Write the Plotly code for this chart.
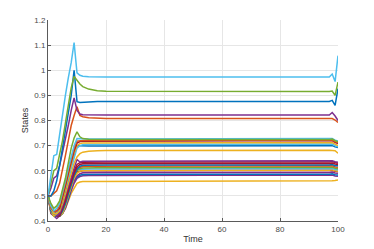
import plotly.graph_objects as go

time = [0, 1, 2, 3, 4, 5, 6, 7, 8, 9, 10, 11, 12, 14, 17, 20, 97, 98, 99, 100]

x_ticks = [0, 20, 40, 60, 80, 100]
x_tick_labels = ["0", "20", "40", "60", "80", "100"]
y_ticks = [0.4, 0.5, 0.6, 0.7, 0.8, 0.9, 1.0, 1.1, 1.2]
y_tick_labels = ["0.4", "0.5", "0.6", "0.7", "0.8", "0.9", "1", "1.1", "1.2"]

BLUE = "#0072BD"; ORANGE = "#D95319"; YELLOW = "#EDB120"; PURPLE = "#7E2F8E"
GREEN = "#77AC30"; LIGHTBLUE = "#4DBEEE"; RED = "#A2142F"

s01 = [0.50, 0.58, 0.66, 0.665, 0.75, 0.83, 0.90, 0.97, 1.03, 1.11, 0.99, 0.980, 0.976, 0.974, 0.973, 0.973, 0.973, 0.985, 0.955, 1.058]
s02 = [0.50, 0.55, 0.60, 0.61, 0.66, 0.72, 0.79, 0.86, 0.93, 0.975, 0.960, 0.945, 0.935, 0.925, 0.918, 0.916, 0.915, 0.917, 0.900, 0.953]
s03 = [0.50, 0.50, 0.52, 0.56, 0.62, 0.69, 0.76, 0.83, 0.90, 1.00, 0.875, 0.872, 0.873, 0.875, 0.876, 0.876, 0.876, 0.880, 0.860, 0.927]
s04 = [0.50, 0.53, 0.57, 0.58, 0.62, 0.67, 0.72, 0.78, 0.84, 0.89, 0.84, 0.826, 0.823, 0.822, 0.822, 0.822, 0.822, 0.832, 0.818, 0.800]
s05 = [0.50, 0.50, 0.51, 0.52, 0.55, 0.60, 0.66, 0.72, 0.78, 0.82, 0.855, 0.820, 0.815, 0.811, 0.809, 0.808, 0.808, 0.808, 0.802, 0.792]
s06 = [0.50, 0.47, 0.45, 0.46, 0.48, 0.52, 0.57, 0.63, 0.69, 0.73, 0.755, 0.735, 0.728, 0.725, 0.724, 0.724, 0.724, 0.726, 0.720, 0.715]
s07 = [0.50, 0.46, 0.44, 0.45, 0.47, 0.51, 0.56, 0.61, 0.66, 0.70, 0.728, 0.727, 0.726, 0.726, 0.726, 0.726, 0.726, 0.728, 0.722, 0.718]
s08 = [0.50, 0.45, 0.44, 0.44, 0.46, 0.50, 0.55, 0.60, 0.65, 0.69, 0.718, 0.720, 0.720, 0.720, 0.720, 0.720, 0.720, 0.722, 0.716, 0.712]
s09 = [0.50, 0.46, 0.44, 0.44, 0.45, 0.49, 0.54, 0.59, 0.64, 0.68, 0.710, 0.716, 0.717, 0.717, 0.717, 0.717, 0.717, 0.720, 0.713, 0.708]
s10 = [0.50, 0.45, 0.43, 0.43, 0.44, 0.48, 0.53, 0.58, 0.63, 0.67, 0.700, 0.708, 0.710, 0.710, 0.710, 0.710, 0.710, 0.712, 0.706, 0.700]
s11 = [0.50, 0.45, 0.43, 0.43, 0.45, 0.49, 0.53, 0.58, 0.62, 0.66, 0.690, 0.700, 0.703, 0.704, 0.704, 0.704, 0.704, 0.706, 0.700, 0.695]
s12 = [0.50, 0.44, 0.43, 0.43, 0.44, 0.48, 0.52, 0.57, 0.62, 0.66, 0.700, 0.700, 0.699, 0.699, 0.699, 0.699, 0.699, 0.700, 0.695, 0.692]
s13 = [0.50, 0.44, 0.42, 0.43, 0.44, 0.47, 0.51, 0.56, 0.60, 0.63, 0.655, 0.668, 0.674, 0.678, 0.680, 0.681, 0.682, 0.682, 0.680, 0.670]
s14 = [0.50, 0.45, 0.43, 0.42, 0.43, 0.46, 0.50, 0.54, 0.58, 0.61, 0.645, 0.635, 0.638, 0.638, 0.638, 0.638, 0.638, 0.640, 0.636, 0.634]
s15 = [0.50, 0.45, 0.43, 0.42, 0.43, 0.45, 0.49, 0.53, 0.57, 0.60, 0.625, 0.632, 0.634, 0.635, 0.635, 0.635, 0.635, 0.637, 0.633, 0.630]
s16 = [0.50, 0.44, 0.43, 0.42, 0.42, 0.45, 0.48, 0.52, 0.56, 0.59, 0.615, 0.625, 0.628, 0.629, 0.629, 0.629, 0.629, 0.631, 0.627, 0.625]
s17 = [0.50, 0.44, 0.42, 0.42, 0.42, 0.44, 0.47, 0.51, 0.55, 0.58, 0.605, 0.618, 0.622, 0.623, 0.623, 0.623, 0.623, 0.625, 0.620, 0.620]
s18 = [0.50, 0.45, 0.43, 0.43, 0.43, 0.45, 0.48, 0.52, 0.56, 0.59, 0.610, 0.615, 0.617, 0.618, 0.618, 0.618, 0.618, 0.620, 0.615, 0.614]
s19 = [0.50, 0.44, 0.43, 0.42, 0.42, 0.44, 0.47, 0.51, 0.55, 0.58, 0.600, 0.608, 0.611, 0.612, 0.612, 0.612, 0.612, 0.614, 0.610, 0.608]
s20 = [0.50, 0.45, 0.43, 0.42, 0.43, 0.45, 0.48, 0.52, 0.56, 0.59, 0.605, 0.606, 0.607, 0.607, 0.607, 0.607, 0.607, 0.609, 0.605, 0.604]
s21 = [0.50, 0.44, 0.42, 0.42, 0.42, 0.43, 0.46, 0.50, 0.54, 0.57, 0.590, 0.598, 0.601, 0.602, 0.602, 0.602, 0.602, 0.604, 0.600, 0.598]
s22 = [0.50, 0.45, 0.44, 0.43, 0.43, 0.45, 0.48, 0.51, 0.55, 0.58, 0.595, 0.599, 0.600, 0.600, 0.600, 0.600, 0.600, 0.602, 0.598, 0.597]
s23 = [0.50, 0.44, 0.43, 0.42, 0.42, 0.44, 0.46, 0.50, 0.53, 0.56, 0.580, 0.588, 0.592, 0.593, 0.593, 0.593, 0.593, 0.595, 0.591, 0.590]
s24 = [0.50, 0.44, 0.42, 0.42, 0.42, 0.43, 0.46, 0.49, 0.53, 0.56, 0.575, 0.582, 0.585, 0.586, 0.586, 0.586, 0.586, 0.588, 0.584, 0.583]
s25 = [0.50, 0.43, 0.42, 0.41, 0.42, 0.43, 0.45, 0.49, 0.52, 0.55, 0.570, 0.577, 0.580, 0.581, 0.581, 0.581, 0.581, 0.583, 0.579, 0.578]
s26 = [0.50, 0.43, 0.42, 0.42, 0.42, 0.43, 0.45, 0.48, 0.51, 0.53, 0.550, 0.555, 0.557, 0.557, 0.557, 0.557, 0.559, 0.560, 0.561, 0.563]

series = [s26, s25, s24, s23, s22, s21, s20, s19, s18, s17, s16, s15, s14,
          s13, s12, s11, s10, s09, s08, s07, s06, s05, s04, s03, s02, s01]
colors = [YELLOW, PURPLE, BLUE, PURPLE, RED, YELLOW, LIGHTBLUE, GREEN, ORANGE, BLUE, RED, RED, PURPLE,
          YELLOW, BLUE, LIGHTBLUE, YELLOW, RED, ORANGE, LIGHTBLUE, GREEN, ORANGE, PURPLE, BLUE, GREEN, LIGHTBLUE]

fig = go.Figure()
for vals, col in zip(series, colors):
    fig.add_trace(go.Scatter(x=time, y=vals, mode="lines",
                             line=dict(color=col, width=1.5), showlegend=False,
                             hoverinfo="skip"))

font_family = "Liberation Sans, Arial, Helvetica, sans-serif"
axis_common = dict(
    showgrid=True, gridcolor="#e6e6e6", gridwidth=1,
    showline=True, linecolor="#5a5a5a", linewidth=1,
    ticks="inside", ticklen=3, tickcolor="#5a5a5a", tickwidth=1,
    tickfont=dict(family=font_family, size=8, color="#4a4a4a"),
    zeroline=False, automargin=False,
)

fig.update_layout(
    width=374, height=249,
    margin=dict(l=48, r=36, t=20, b=28),
    paper_bgcolor="white", plot_bgcolor="white",
    xaxis=dict(range=[0, 100], tickvals=x_ticks, ticktext=x_tick_labels,
               title=dict(text="Time", font=dict(family=font_family, size=9, color="#333"), standoff=3),
               **axis_common),
    yaxis=dict(range=[0.4, 1.2], tickvals=y_ticks, ticktext=y_tick_labels,
               title=dict(text="States", font=dict(family=font_family, size=9, color="#333"), standoff=4),
               **axis_common),
)

fig.write_html("out.html", config={"displayModeBar": False, "staticPlot": True},
               post_script="document.body.style.margin='0';document.body.style.overflow='hidden';")
